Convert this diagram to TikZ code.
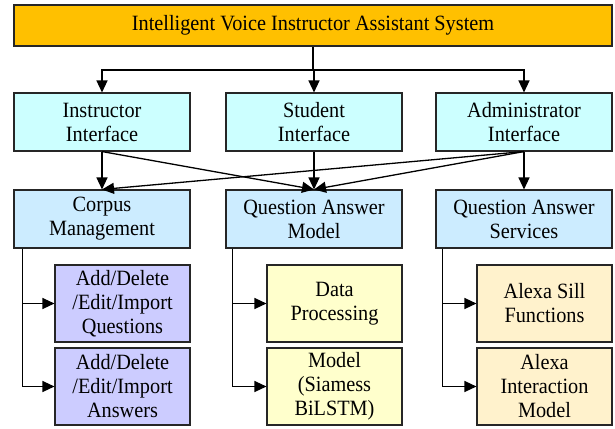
\documentclass[tikz,border=0pt]{standalone}
\usepackage{fontspec}
\setmainfont{Liberation Serif}[FakeStretch=0.93]
\usetikzlibrary{arrows.meta}
\definecolor{sysorange}{HTML}{FFC000}
\definecolor{ifcyan}{HTML}{CCFFFF}
\definecolor{modblue}{HTML}{CCECFF}
\definecolor{corpviolet}{HTML}{CCCCFF}
\definecolor{qayellow}{HTML}{FFFFCC}
\definecolor{svcpeach}{HTML}{FFF2CC}
\definecolor{edgegray}{HTML}{262626}
\tikzset{
  box/.style={draw=edgegray, line width=1.1pt, inner sep=0pt, align=center,
    font=\fontsize{21.8}{24}\selectfont, text=black},
  mainbox/.style={box, fill=sysorange, minimum width=598pt, minimum height=41pt},
  ifbox/.style={box, fill=ifcyan, minimum width=176pt, minimum height=58pt},
  modbox/.style={box, fill=modblue, minimum width=176pt, minimum height=58pt},
  subbox/.style={box, minimum width=135pt, minimum height=77pt},
  arr/.style={draw=black, line width=1.3pt, -{Triangle[length=12pt,width=11pt]}},
  link/.style={draw=black, line width=1.3pt}
}
\begin{document}
\begin{tikzpicture}[x=1pt,y=-1pt]
\useasboundingbox (0,0) rectangle (615,428);

% top level system
\node[mainbox] (sys) at (313,25.5) {Intelligent Voice Instructor Assistant System};

% user interfaces
\node[ifbox] (instr) at (102,122) {Instructor\\Interface};
\node[ifbox] (stud)  at (314,122) {Student\\Interface};
\node[ifbox] (admin) at (524,122) {Administrator\\Interface};

% functional modules
\node[modbox] (corpus) at (102,219) {Corpus\\Management};
\node[modbox] (qamod)  at (314,219) {Question Answer\\Model};
\node[modbox] (qasvc)  at (524,219) {Question Answer\\Services};

% sub-functions
\node[subbox, fill=corpviolet] (cq) at (122.5,303.5) {Add/Delete\\/Edit/Import\\Questions};
\node[subbox, fill=corpviolet] (ca) at (122.5,386.5) {Add/Delete\\/Edit/Import\\Answers};
\node[subbox, fill=qayellow] (dp) at (334.5,303.5) {Data\\Processing};
\node[subbox, fill=qayellow] (sb) at (334.5,386.5) {Model\\(Siamess\\BiLSTM)};
\node[subbox, fill=svcpeach] (asf) at (544.5,303.5) {Alexa Sill\\Functions};
\node[subbox, fill=svcpeach] (aim) at (544.5,386.5) {Alexa\\Interaction\\Model};

% system to interfaces
\coordinate (split) at (313,70);
\draw[link] (sys.south) -- (split);
\draw[arr] (split) -| (instr.north);
\draw[arr] (split) -| (admin.north);
\draw[arr] (split) -- (split -| stud.north) -- (stud.north);

% interfaces to modules
\draw[arr] (instr.south) -- (corpus.north);
\draw[arr] (instr.south) -- (qamod.north);
\draw[arr] (stud.south) -- (qamod.north);
\draw[arr] (admin.south) -- (corpus.north);
\draw[arr] (admin.south) -- (qamod.north);
\draw[arr] (admin.south) -- (qasvc.north);

% modules to sub-functions
\draw[arr] ([xshift=9pt]corpus.south west) |- (cq.west);
\draw[arr] ([xshift=9pt]corpus.south west) |- (ca.west);
\draw[arr] ([xshift=7pt]qamod.south west) |- (dp.west);
\draw[arr] ([xshift=7pt]qamod.south west) |- (sb.west);
\draw[arr] ([xshift=7pt]qasvc.south west) |- (asf.west);
\draw[arr] ([xshift=7pt]qasvc.south west) |- (aim.west);
\end{tikzpicture}
\end{document}
